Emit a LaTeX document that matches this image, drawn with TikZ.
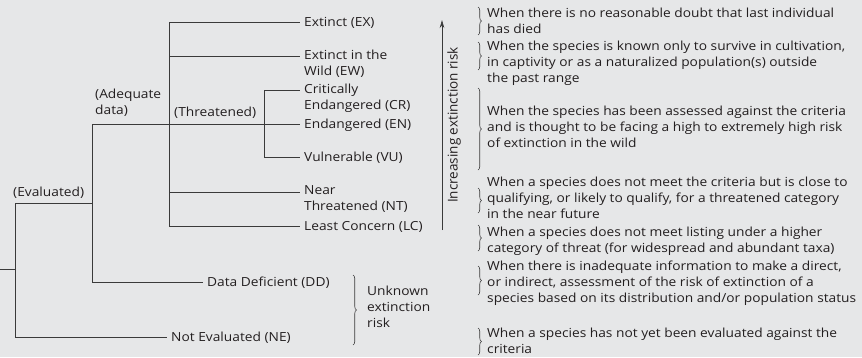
\documentclass[tikz,border=0pt]{standalone}
\usepackage{fontspec}
\setmainfont{Open Sans}[FakeStretch=1.10]
\newfontfamily\upfont{Open Sans}
\usetikzlibrary{arrows.meta,decorations.pathreplacing}
\definecolor{bgc}{HTML}{E6E7E8}
\definecolor{lnc}{HTML}{3A3A3A}
\definecolor{txc}{HTML}{231F20}
\tikzset{
  txt/.style={anchor=north west, yshift=6.7pt, inner sep=0pt, align=left, execute at begin node=\strut, font=\fontsize{12.5}{16}\selectfont, text=txc},
  cat/.style={txt, inner xsep=4pt},
  grp/.style={txt},
  desc/.style={txt},
  tl/.style={lnc, line width=0.9pt},
  br/.style={decorate, decoration={brace, amplitude=3.5pt}, lnc, line width=0.6pt},
  up/.style={-{Stealth[length=8pt, width=4.5pt]}, lnc, line width=0.7pt},
}

\begin{document}
\begin{tikzpicture}[x=1pt, y=-1pt]
\useasboundingbox[fill=bgc] (0,0) rectangle (862,357);
\coordinate (root) at (0,269);
\coordinate (all) at (15,269);
\coordinate (evl) at (92,203);
\coordinate (adq) at (169,124);
\coordinate (thr) at (264,124);
\node[cat] (ex) at (300,22) {Extinct (EX)};
\node[cat] (ew) at (300,56) {Extinct in the\\Wild (EW)};
\node[cat] (cr) at (300,90) {Critically\\Endangered (CR)};
\node[cat] (en) at (300,124) {Endangered (EN)};
\node[cat] (vu) at (300,157) {Vulnerable (VU)};
\node[cat] (nt) at (300,192) {Near\\Threatened (NT)};
\node[cat] (lc) at (300,226) {Least Concern (LC)};
\node[cat] (dd) at (203,282) {Data Deficient (DD)};
\node[cat] (ne) at (167,337) {Not Evaluated (NE)};
\node[grp] (adl) at (95,95.5) {(Adequate\\data)};
\node[grp] (thl) at (174,111.5) {(Threatened)};
\node[grp] (evll) at (13,191.5) {(Evaluated)};
\draw[tl] (root) -- (all);
\draw[tl] (all) |- (evl);
\draw[tl] (all) |- ([yshift=-6.7pt]ne.north west);
\draw[tl] (evl) |- (adq);
\draw[tl] (evl) |- ([yshift=-6.7pt]dd.north west);
\draw[tl] (adq) -- (thr);
\foreach \n in {ex,ew,nt,lc}
  \draw[tl] (adq) |- ([yshift=-6.7pt]\n.north west);
\foreach \n in {cr,en,vu}
  \draw[tl] (thr) |- ([yshift=-6.7pt]\n.north west);
\coordinate (rlo) at (442,230);
\coordinate (rhi) at (442,20);
\draw[up] (rlo) -- node[midway, below, sloped, inner sep=5pt, font=\upfont\fontsize{13.5}{16}\selectfont, text=txc] (rsk) {Increasing extinction risk} (rhi);
\draw[br] (353,275) -- (353,345);
\node[grp] (unk) at (367,292.5) {Unknown\\extinction\\risk};
\node[desc] (d1) at (487,14) {When there is no reasonable doubt that last individual\\has died};
\node[desc] (d2) at (487,47) {When the species is known only to survive in cultivation,\\in captivity or as a naturalized population(s) outside\\the past range};
\node[desc] (d3) at (487,112) {When the species has been assessed against the criteria\\and is thought to be facing a high to extremely high risk\\of extinction in the wild};
\node[desc] (d4) at (487,183) {When a species does not meet the criteria but is close to\\qualifying, or likely to qualify, for a threatened category\\in the near future};
\node[desc] (d5) at (487,233) {When a species does not meet listing under a higher\\category of threat (for widespread and abundant taxa)};
\node[desc] (d6) at (487,267) {When there is inadequate information to make a direct,\\or indirect, assessment of the risk of extinction of a\\species based on its distribution and/or population status};
\node[desc] (d7) at (487,334) {When a species has not yet been evaluated against the\\criteria};
\draw[br] (478,7) -- (478,35);
\draw[br] (478,42) -- (478,70);
\draw[br] (478,88) -- (478,170);
\draw[br] (478,188) -- (478,213);
\draw[br] (478,225) -- (478,251);
\draw[br] (478,266) -- (478,295);
\draw[br] (478,328) -- (478,355);
\end{tikzpicture}
\end{document}
